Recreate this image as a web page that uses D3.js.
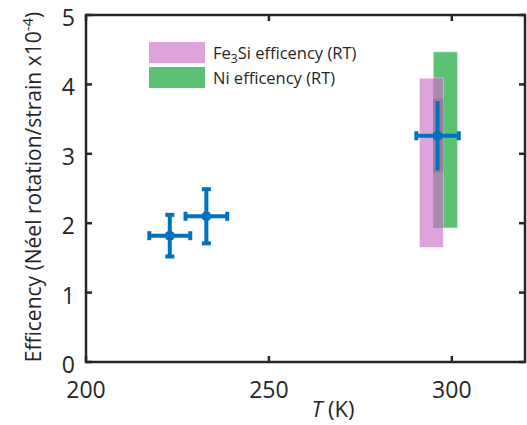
<!DOCTYPE html>
<html>
<head>
<meta charset="utf-8">
<script src="https://cdn.jsdelivr.net/npm/d3@7.9.0/dist/d3.min.js"></script>
<style>
  body { margin: 0; background: #fff; }
  svg { display: block; }
  text { font-family: "Open Sans", sans-serif; fill: #262626; }
</style>
</head>
<body>
<svg id="chart" width="527" height="425"></svg>
<script>
// measured points (temperature vs efficiency)
const temps = [222.9, 232.9, 296.1];
const tempErr = [5.6, 5.7, 5.8];
const effs = [1.82, 2.10, 3.26];
const effErr = [0.30, 0.39, 0.50];

// room temperature efficiency bands [x0, x1, y0, y1]
const bandNames = ['Ni efficency (RT)', 'Fe3Si efficency (RT)'];
const bandColors = ['#5cc175', '#dea3dd'];
const bandBoxes = [[294.9, 301.6, 1.93, 4.47], [291.1, 297.7, 1.65, 4.09]];

const xTicks = [200, 250, 300];
const yTicks = [0, 1, 2, 3, 4, 5];

const svg = d3.select('#chart');
const x = d3.scaleLinear().domain([200, 320]).range([86, 525]);
const y = d3.scaleLinear().domain([0, 5]).range([362, 15]);

// bands
svg.selectAll('rect.band').data(bandBoxes).enter().append('rect')
    .attr('class', 'band')
    .attr('x', d => x(d[0]))
    .attr('y', d => y(d[3]))
    .attr('width', d => x(d[1]) - x(d[0]))
    .attr('height', d => y(d[2]) - y(d[3]))
    .attr('fill', (d, i) => bandColors[i])
    .attr('stroke', 'rgba(255,255,255,0.6)')
    .attr('stroke-width', 1);

// overlap of the two bands
const ov = [Math.max(bandBoxes[0][0], bandBoxes[1][0]), Math.min(bandBoxes[0][1], bandBoxes[1][1]),
            Math.max(bandBoxes[0][2], bandBoxes[1][2]), Math.min(bandBoxes[0][3], bandBoxes[1][3])];
svg.append('rect')
    .attr('x', x(ov[0])).attr('y', y(ov[3]))
    .attr('width', x(ov[1]) - x(ov[0])).attr('height', y(ov[2]) - y(ov[3]))
    .attr('fill', '#a88aaa');
// darker region where the last error bar crosses the overlap
svg.append('rect')
    .attr('x', x(ov[0])).attr('y', y(effs[2] + effErr[2]) - 2)
    .attr('width', x(ov[1]) - x(ov[0])).attr('height', y(effs[2] - effErr[2]) - y(effs[2] + effErr[2]) + 4)
    .attr('fill', '#9a7c9d');

// error bars
const blue = '#0072bd';
const cap = 4.5;
const g = svg.append('g').attr('stroke', blue).attr('stroke-width', 4);
temps.forEach((t, i) => {
  g.append('line').attr('x1', x(t - tempErr[i])).attr('x2', x(t + tempErr[i]))
      .attr('y1', y(effs[i])).attr('y2', y(effs[i]));
  g.append('line').attr('x1', x(t)).attr('x2', x(t))
      .attr('y1', y(effs[i] - effErr[i])).attr('y2', y(effs[i] + effErr[i]));
  [t - tempErr[i], t + tempErr[i]].forEach(v => {
    g.append('line').attr('x1', x(v)).attr('x2', x(v))
        .attr('y1', y(effs[i]) - cap).attr('y2', y(effs[i]) + cap);
  });
  if (i < 2) {
    [effs[i] - effErr[i], effs[i] + effErr[i]].forEach(v => {
      g.append('line').attr('x1', x(t) - cap).attr('x2', x(t) + cap)
          .attr('y1', y(v)).attr('y2', y(v));
    });
  }
});
svg.selectAll('circle.pt').data(temps).enter().append('circle')
    .attr('cx', d => x(d)).attr('cy', (d, i) => y(effs[i]))
    .attr('r', 5).attr('fill', blue);

// axes box
const axisColor = '#262626';
svg.append('rect').attr('x', 86).attr('y', 15).attr('width', 439).attr('height', 347)
    .attr('fill', 'none').attr('stroke', axisColor).attr('stroke-width', 2.5);
const tl = 6;
xTicks.forEach(t => {
  svg.append('line').attr('x1', x(t)).attr('x2', x(t)).attr('y1', 362).attr('y2', 362 - tl)
      .attr('stroke', axisColor).attr('stroke-width', 2.5);
  svg.append('line').attr('x1', x(t)).attr('x2', x(t)).attr('y1', 15).attr('y2', 15 + tl)
      .attr('stroke', axisColor).attr('stroke-width', 2.5);
  svg.append('text').attr('x', x(t)).attr('y', 398).attr('text-anchor', 'middle')
      .attr('font-size', 23).text(t);
});
yTicks.forEach(t => {
  svg.append('line').attr('x1', 86).attr('x2', 86 + tl).attr('y1', y(t)).attr('y2', y(t))
      .attr('stroke', axisColor).attr('stroke-width', 2.5);
  svg.append('line').attr('x1', 525).attr('x2', 525 - tl).attr('y1', y(t)).attr('y2', y(t))
      .attr('stroke', axisColor).attr('stroke-width', 2.5);
  svg.append('text').attr('x', 75).attr('y', y(t) + 11).attr('text-anchor', 'end')
      .attr('font-size', 23).text(t);
});

// axis labels
const xl = svg.append('text').attr('x', 333).attr('y', 417).attr('text-anchor', 'middle').attr('font-size', 22);
xl.append('tspan').attr('font-style', 'italic').text('T');
xl.append('tspan').text(' (K)');

const yl = svg.append('text').attr('transform', 'translate(41,187) rotate(-90)')
    .attr('text-anchor', 'middle').attr('font-size', 21);
yl.append('tspan').text('Efficency (Néel rotation/strain x10');
yl.append('tspan').attr('dy', -8).attr('font-size', 15).text('-4');
yl.append('tspan').attr('dy', 8).text(')');

// legend (Fe3Si first, then Ni)
const legend = svg.append('g').attr('transform', 'translate(149,42)');
[1, 0].forEach((k, j) => {
  legend.append('rect').attr('x', 0).attr('y', j * 25).attr('width', 56).attr('height', 21)
      .attr('fill', bandColors[k]);
  const t = legend.append('text').attr('x', 64).attr('y', j * 25 + 16.5).attr('font-size', 16.5);
  if (k === 1) {
    t.append('tspan').text('Fe');
    t.append('tspan').attr('dy', 4).attr('font-size', 12).text('3');
    t.append('tspan').attr('dy', -4).text('Si efficency (RT)');
  } else {
    t.text(bandNames[k]);
  }
});
</script>
</body>
</html>
